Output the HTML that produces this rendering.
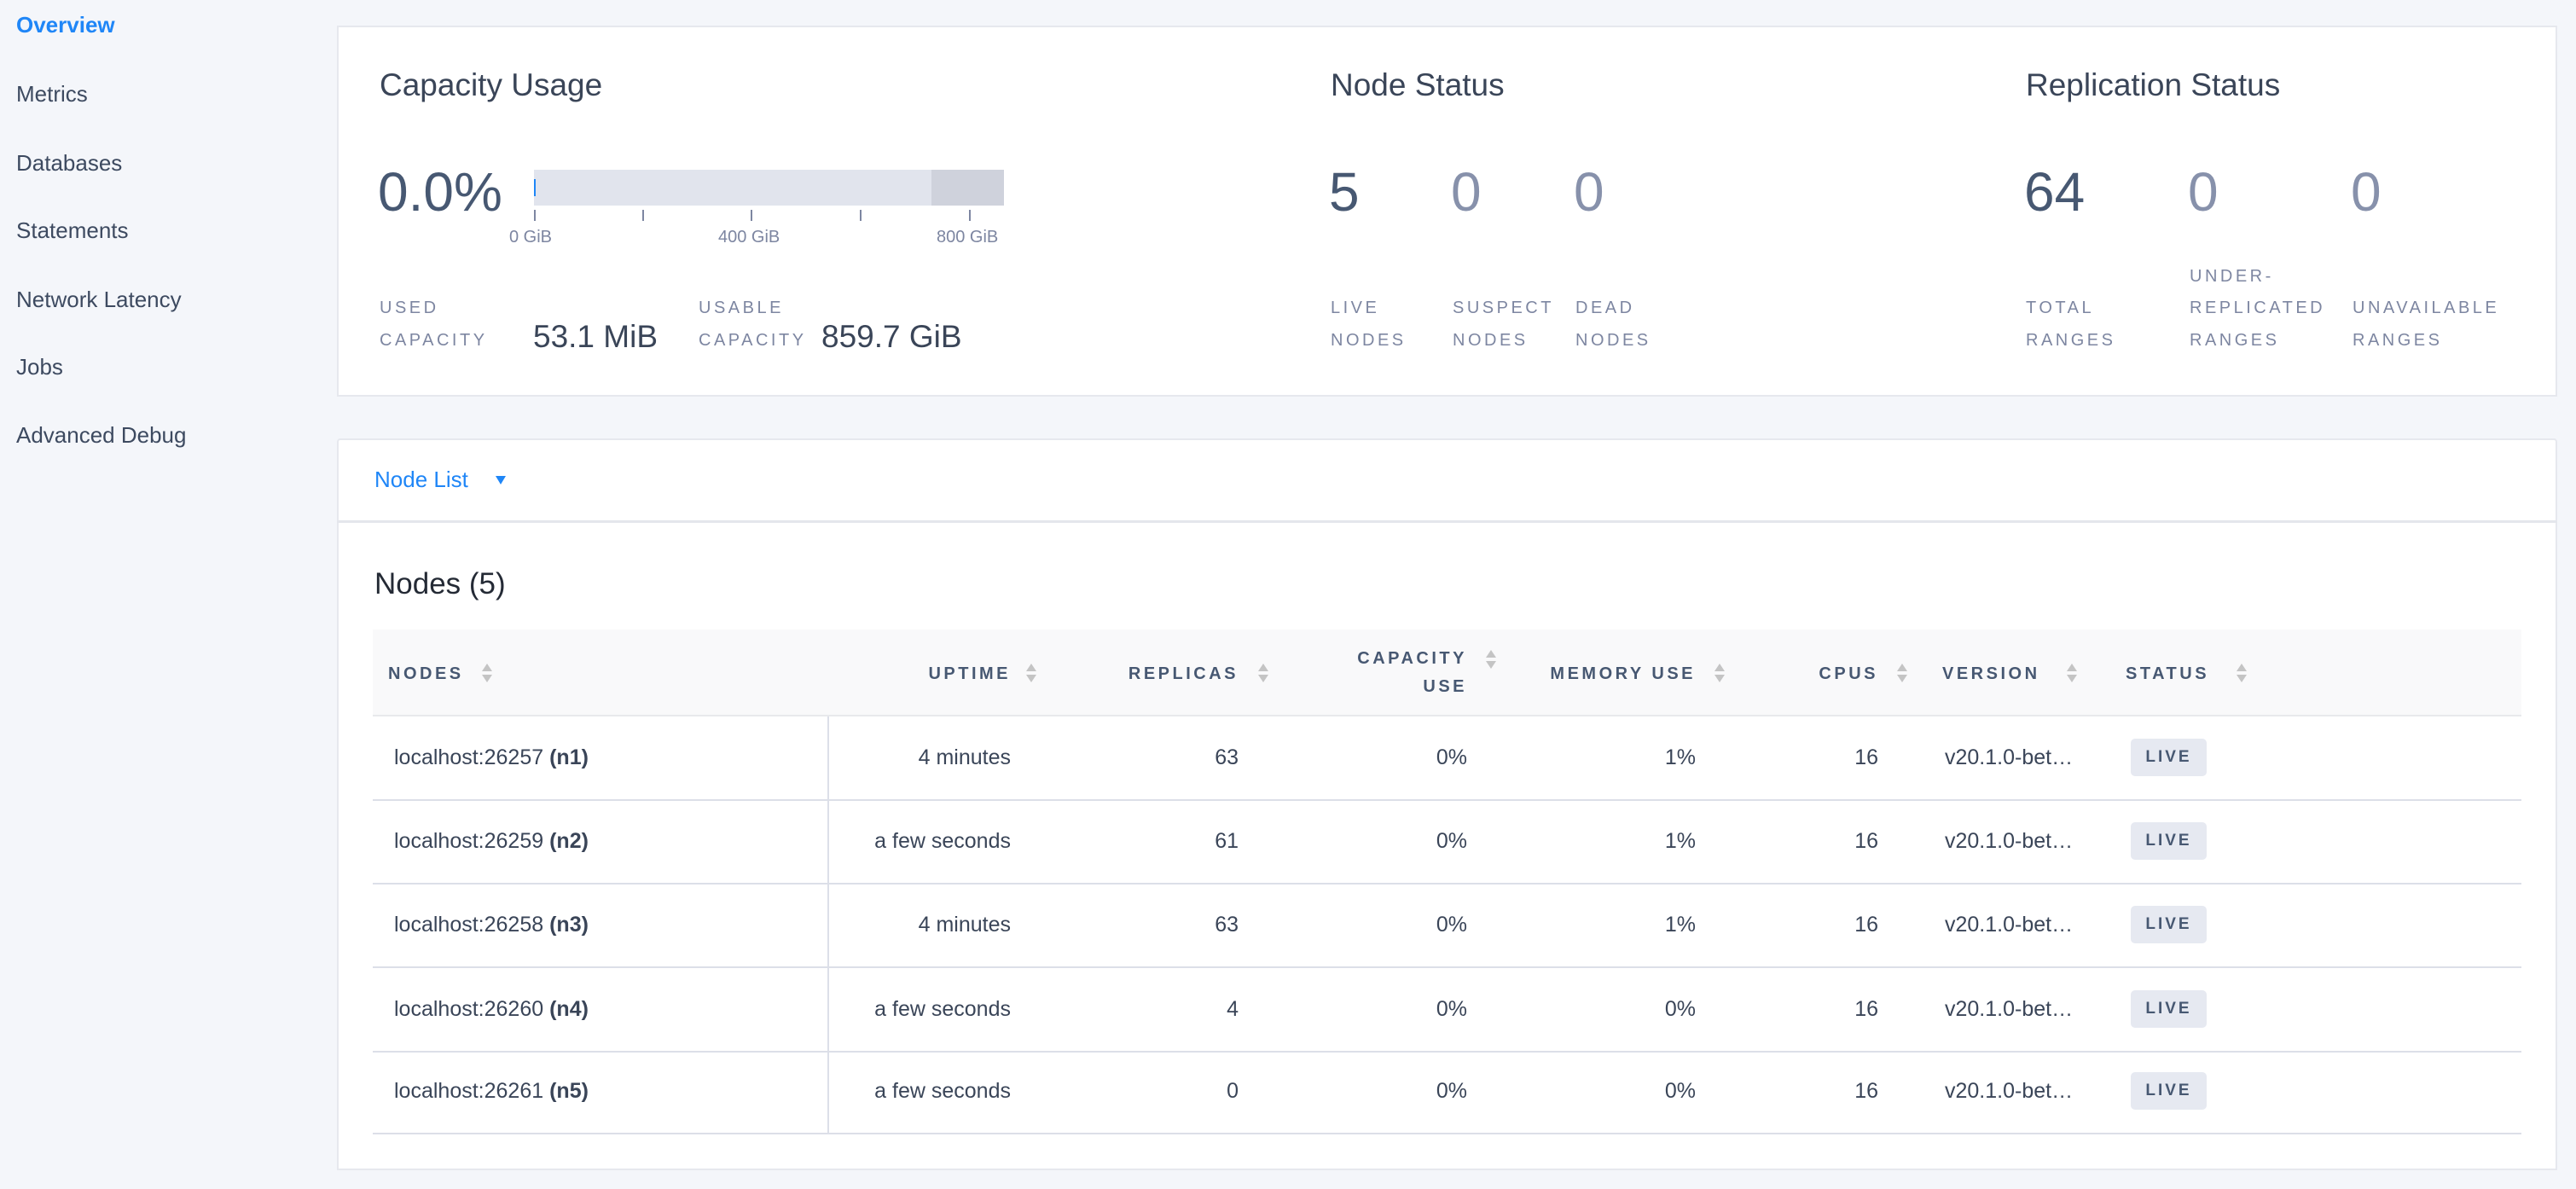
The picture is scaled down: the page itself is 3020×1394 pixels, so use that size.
<!DOCTYPE html>
<html><head><meta charset="utf-8"><style>
*{margin:0;padding:0;box-sizing:border-box}
body{width:3020px;height:1394px;background:#f4f6fa;font-family:"Liberation Sans",sans-serif;color:#3a4558;position:relative;overflow:hidden}
.a{position:absolute;white-space:nowrap}
.nav{left:19px;font-size:26px;color:#3d4a60;line-height:30px}
.card{position:absolute;background:#fff;border:2px solid #e6e8ee}
.t{font-size:37px;color:#3a4558;line-height:40px}
.big{font-size:64px;line-height:70px}
.lb{font-size:20px;letter-spacing:3.5px;color:#7d86a1;line-height:24px}
.val{font-size:37px;line-height:40px;color:#3a4558}
.tick{position:absolute;width:2px;height:13px;background:#7d86a1;top:246px}
.tl{font-size:20px;color:#7d86a1;line-height:24px}
.h{font-size:20px;font-weight:bold;letter-spacing:3.5px;color:#475872;line-height:24px}
.c{font-size:25px;color:#3a4558;line-height:30px}
.r{text-align:right}
.s{position:absolute;width:0;height:0;border-left:6px solid transparent;border-right:6px solid transparent}
.line{position:absolute;left:437px;width:2519px;height:2px;background:#dcdfe8}
.live{position:absolute;left:2498px;width:89px;height:44px;background:#e6e9f1;border-radius:5px;font-size:19px;font-weight:bold;letter-spacing:3px;color:#475872;text-align:center;line-height:44px}
</style></head><body>
<div class="a nav" style="top:14px;color:#1f86f7;font-weight:bold">Overview</div>
<div class="a nav" style="top:95px">Metrics</div>
<div class="a nav" style="top:176px">Databases</div>
<div class="a nav" style="top:255px">Statements</div>
<div class="a nav" style="top:336px">Network Latency</div>
<div class="a nav" style="top:415px">Jobs</div>
<div class="a nav" style="top:495px">Advanced Debug</div>

<div class="card" style="left:395px;top:30px;width:2603px;height:435px"></div>
<div class="a t" style="left:445px;top:80px">Capacity Usage</div>
<div class="a big" style="left:443px;top:190px;color:#475872">0.0%</div>
<div class="a" style="left:626px;top:199px;width:466px;height:42px;background:#e1e4ed"></div>
<div class="a" style="left:1092px;top:199px;width:85px;height:42px;background:#cfd2dc"></div>
<div class="a" style="left:626px;top:210px;width:2px;height:20px;background:#1f86f7"></div>
<div class="tick" style="left:626px"></div><div class="tick" style="left:753px"></div><div class="tick" style="left:880px"></div><div class="tick" style="left:1008px"></div><div class="tick" style="left:1136px"></div>
<div class="a tl" style="left:597px;top:266px">0 GiB</div>
<div class="a tl" style="left:842px;top:266px">400 GiB</div>
<div class="a tl" style="left:1098px;top:266px">800 GiB</div>
<div class="a lb" style="left:445px;top:349px">USED</div>
<div class="a lb" style="left:445px;top:387px">CAPACITY</div>
<div class="a val" style="left:625px;top:375px">53.1 MiB</div>
<div class="a lb" style="left:819px;top:349px">USABLE</div>
<div class="a lb" style="left:819px;top:387px">CAPACITY</div>
<div class="a val" style="left:963px;top:375px">859.7 GiB</div>

<div class="a t" style="left:1560px;top:80px">Node Status</div>
<div class="a big" style="left:1558px;top:190px;color:#475872">5</div>
<div class="a big" style="left:1701px;top:190px;color:#8791ab">0</div>
<div class="a big" style="left:1845px;top:190px;color:#8791ab">0</div>
<div class="a lb" style="left:1560px;top:349px">LIVE</div><div class="a lb" style="left:1560px;top:387px">NODES</div>
<div class="a lb" style="left:1703px;top:349px">SUSPECT</div><div class="a lb" style="left:1703px;top:387px">NODES</div>
<div class="a lb" style="left:1847px;top:349px">DEAD</div><div class="a lb" style="left:1847px;top:387px">NODES</div>

<div class="a t" style="left:2375px;top:80px">Replication Status</div>
<div class="a big" style="left:2373px;top:190px;color:#475872">64</div>
<div class="a big" style="left:2565px;top:190px;color:#8791ab">0</div>
<div class="a big" style="left:2756px;top:190px;color:#8791ab">0</div>
<div class="a lb" style="left:2375px;top:349px">TOTAL</div><div class="a lb" style="left:2375px;top:387px">RANGES</div>
<div class="a lb" style="left:2567px;top:312px">UNDER-</div><div class="a lb" style="left:2567px;top:349px">REPLICATED</div><div class="a lb" style="left:2567px;top:387px">RANGES</div>
<div class="a lb" style="left:2758px;top:349px">UNAVAILABLE</div><div class="a lb" style="left:2758px;top:387px">RANGES</div>

<div class="card" style="left:395px;top:514px;width:2603px;height:99px;border-radius:4px 4px 0 0"></div>
<div class="card" style="left:395px;top:611px;width:2603px;height:761px;border-top:none"></div>
<div class="a" style="left:395px;top:610px;width:2603px;height:3px;background:#e4e6ec"></div>
<div class="a" style="left:439px;top:547px;font-size:26px;color:#1f86f7;line-height:30px">Node List</div>
<div class="s" style="left:581px;top:558px;border-top:10px solid #1f86f7"></div>
<div class="a" style="left:439px;top:665px;font-size:35px;color:#242a35;line-height:40px">Nodes (5)</div>

<div class="a" style="left:437px;top:738px;width:2519px;height:102px;background:#f9f9fa"></div>
<div class="line" style="top:838px;background:#e8e9ec"></div>
<div class="line" style="top:937px"></div><div class="line" style="top:1035px"></div><div class="line" style="top:1133px"></div><div class="line" style="top:1232px"></div><div class="line" style="top:1328px"></div>
<div class="a" style="left:970px;top:840px;width:2px;height:490px;background:#dcdfe8"></div>

<div class="a h" style="left:455px;top:778px">NODES</div>
<div class="a h r" style="left:985px;width:200px;top:778px">UPTIME</div>
<div class="a h r" style="left:1200px;width:252px;top:778px">REPLICAS</div>
<div class="a h r" style="left:1500px;width:220px;top:760px">CAPACITY</div>
<div class="a h r" style="left:1500px;width:220px;top:793px">USE</div>
<div class="a h r" style="left:1700px;width:288px;top:778px">MEMORY USE</div>
<div class="a h r" style="left:2000px;width:202px;top:778px">CPUS</div>
<div class="a h" style="left:2277px;top:778px">VERSION</div>
<div class="a h" style="left:2492px;top:778px">STATUS</div>
<div class="s" style="left:565px;top:778px;border-bottom:9px solid #c4c4c4"></div><div class="s" style="left:565px;top:791px;border-top:9px solid #c4c4c4"></div>
<div class="s" style="left:1203px;top:778px;border-bottom:9px solid #c4c4c4"></div><div class="s" style="left:1203px;top:791px;border-top:9px solid #c4c4c4"></div>
<div class="s" style="left:1475px;top:778px;border-bottom:9px solid #c4c4c4"></div><div class="s" style="left:1475px;top:791px;border-top:9px solid #c4c4c4"></div>
<div class="s" style="left:1742px;top:762px;border-bottom:9px solid #c4c4c4"></div><div class="s" style="left:1742px;top:775px;border-top:9px solid #c4c4c4"></div>
<div class="s" style="left:2010px;top:778px;border-bottom:9px solid #c4c4c4"></div><div class="s" style="left:2010px;top:791px;border-top:9px solid #c4c4c4"></div>
<div class="s" style="left:2224px;top:778px;border-bottom:9px solid #c4c4c4"></div><div class="s" style="left:2224px;top:791px;border-top:9px solid #c4c4c4"></div>
<div class="s" style="left:2423px;top:778px;border-bottom:9px solid #c4c4c4"></div><div class="s" style="left:2423px;top:791px;border-top:9px solid #c4c4c4"></div>
<div class="s" style="left:2622px;top:778px;border-bottom:9px solid #c4c4c4"></div><div class="s" style="left:2622px;top:791px;border-top:9px solid #c4c4c4"></div>

<div class="a c" style="left:462px;top:873px">localhost:26257 <b>(n1)</b></div>
<div class="a c r" style="left:985px;width:200px;top:873px">4 minutes</div>
<div class="a c r" style="left:1300px;width:152px;top:873px">63</div>
<div class="a c r" style="left:1600px;width:120px;top:873px">0%</div>
<div class="a c r" style="left:1850px;width:138px;top:873px">1%</div>
<div class="a c r" style="left:2100px;width:102px;top:873px">16</div>
<div class="a c" style="left:2280px;top:873px">v20.1.0-bet…</div>
<div class="live" style="top:866px">LIVE</div>

<div class="a c" style="left:462px;top:971px">localhost:26259 <b>(n2)</b></div>
<div class="a c r" style="left:985px;width:200px;top:971px">a few seconds</div>
<div class="a c r" style="left:1300px;width:152px;top:971px">61</div>
<div class="a c r" style="left:1600px;width:120px;top:971px">0%</div>
<div class="a c r" style="left:1850px;width:138px;top:971px">1%</div>
<div class="a c r" style="left:2100px;width:102px;top:971px">16</div>
<div class="a c" style="left:2280px;top:971px">v20.1.0-bet…</div>
<div class="live" style="top:964px">LIVE</div>

<div class="a c" style="left:462px;top:1069px">localhost:26258 <b>(n3)</b></div>
<div class="a c r" style="left:985px;width:200px;top:1069px">4 minutes</div>
<div class="a c r" style="left:1300px;width:152px;top:1069px">63</div>
<div class="a c r" style="left:1600px;width:120px;top:1069px">0%</div>
<div class="a c r" style="left:1850px;width:138px;top:1069px">1%</div>
<div class="a c r" style="left:2100px;width:102px;top:1069px">16</div>
<div class="a c" style="left:2280px;top:1069px">v20.1.0-bet…</div>
<div class="live" style="top:1062px">LIVE</div>

<div class="a c" style="left:462px;top:1168px">localhost:26260 <b>(n4)</b></div>
<div class="a c r" style="left:985px;width:200px;top:1168px">a few seconds</div>
<div class="a c r" style="left:1300px;width:152px;top:1168px">4</div>
<div class="a c r" style="left:1600px;width:120px;top:1168px">0%</div>
<div class="a c r" style="left:1850px;width:138px;top:1168px">0%</div>
<div class="a c r" style="left:2100px;width:102px;top:1168px">16</div>
<div class="a c" style="left:2280px;top:1168px">v20.1.0-bet…</div>
<div class="live" style="top:1161px">LIVE</div>

<div class="a c" style="left:462px;top:1264px">localhost:26261 <b>(n5)</b></div>
<div class="a c r" style="left:985px;width:200px;top:1264px">a few seconds</div>
<div class="a c r" style="left:1300px;width:152px;top:1264px">0</div>
<div class="a c r" style="left:1600px;width:120px;top:1264px">0%</div>
<div class="a c r" style="left:1850px;width:138px;top:1264px">0%</div>
<div class="a c r" style="left:2100px;width:102px;top:1264px">16</div>
<div class="a c" style="left:2280px;top:1264px">v20.1.0-bet…</div>
<div class="live" style="top:1257px">LIVE</div>
</body></html>
